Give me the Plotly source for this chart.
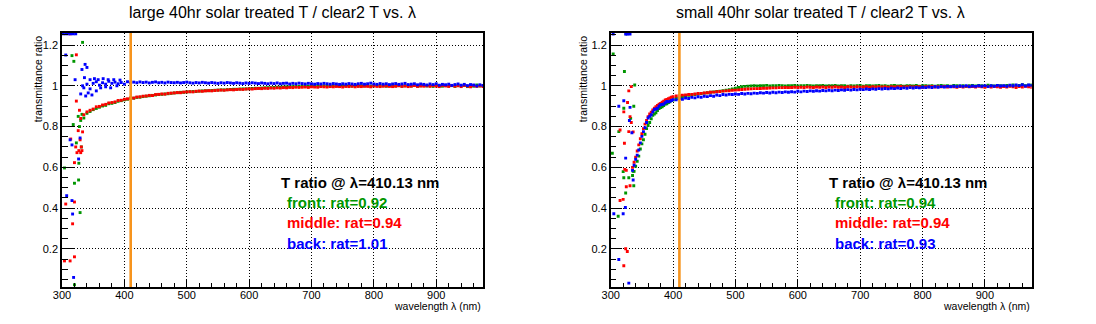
import plotly.graph_objects as go

# ---------------- data ----------------
wl = list(range(335, 980, 5))  # sampling grid 335..975 nm

L_front = [0.842, 0.865, 0.874, 0.883, 0.889, 0.895, 0.901, 0.904, 0.912, 0.914,
           0.918, 0.924, 0.927, 0.931, 0.934, 0.938, 0.939, 0.943, 0.944, 0.947,
           0.949, 0.951, 0.953, 0.955, 0.957, 0.958, 0.960, 0.961, 0.963, 0.965,
           0.966, 0.968, 0.968, 0.970, 0.971, 0.972, 0.972, 0.974, 0.975, 0.976,
           0.976, 0.977, 0.978, 0.979, 0.980, 0.980, 0.981, 0.982, 0.983, 0.983,
           0.984, 0.985, 0.985, 0.986, 0.987, 0.988, 0.988, 0.989, 0.990, 0.991,
           0.991, 0.992, 0.993, 0.993, 0.994, 0.995, 0.995, 0.996, 0.996, 0.997,
           0.997, 0.998, 0.997, 0.999, 0.998, 0.999, 0.998, 1.000, 0.999, 0.998,
           1.000, 0.999, 0.998, 1.001, 0.999, 1.000, 0.998, 1.001, 0.999, 1.000,
           0.999, 1.001, 0.998, 1.000, 1.002, 0.999, 1.000, 0.998, 1.001, 1.000,
           0.999, 1.002, 0.998, 1.000, 1.001, 0.999, 1.003, 0.998, 1.000, 1.002,
           0.999, 1.001, 0.997, 1.003, 1.000, 0.998, 1.002, 0.999, 1.001, 0.997,
           1.003, 0.999, 1.001, 0.996, 1.002, 0.998, 1.004, 0.999, 1.001]
L_middle = [0.858, 0.872, 0.880, 0.886, 0.897, 0.899, 0.906, 0.909, 0.916, 0.918,
            0.921, 0.928, 0.929, 0.934, 0.936, 0.941, 0.940, 0.945, 0.946, 0.949,
            0.950, 0.953, 0.952, 0.957, 0.958, 0.960, 0.959, 0.963, 0.964, 0.965,
            0.967, 0.966, 0.969, 0.970, 0.971, 0.970, 0.973, 0.974, 0.973, 0.975,
            0.976, 0.975, 0.977, 0.978, 0.979, 0.978, 0.980, 0.981, 0.980, 0.982,
            0.983, 0.982, 0.984, 0.985, 0.984, 0.986, 0.987, 0.986, 0.988, 0.987,
            0.989, 0.988, 0.990, 0.989, 0.991, 0.990, 0.992, 0.991, 0.993, 0.992,
            0.993, 0.994, 0.992, 0.995, 0.994, 0.993, 0.996, 0.995, 0.994, 0.996,
            0.995, 0.997, 0.996, 0.994, 0.997, 0.996, 0.998, 0.995, 0.997, 0.996,
            0.998, 0.997, 0.995, 0.999, 0.997, 0.996, 0.998, 0.999, 0.997, 0.996,
            0.998, 1.000, 0.997, 0.999, 0.996, 0.998, 1.001, 0.997, 0.999, 0.998,
            1.000, 0.997, 1.001, 0.998, 0.996, 1.002, 0.999, 0.997, 1.001, 0.998,
            1.000, 0.996, 1.002, 0.998, 0.995, 1.001, 0.997, 1.000, 0.996]
L_back = [0.990, 1.008, 0.985, 1.012, 1.020, 1.003, 1.015, 1.008, 1.022, 1.012,
          1.018, 1.010, 1.016, 1.008, 1.020, 1.014, 1.018, 1.015, 1.019, 1.016,
          1.018, 1.014, 1.017, 1.019, 1.015, 1.017, 1.014, 1.018, 1.016, 1.015,
          1.017, 1.014, 1.016, 1.018, 1.015, 1.013, 1.016, 1.014, 1.017, 1.015,
          1.013, 1.016, 1.014, 1.012, 1.015, 1.013, 1.016, 1.014, 1.012, 1.015,
          1.013, 1.011, 1.014, 1.012, 1.015, 1.013, 1.011, 1.014, 1.012, 1.010,
          1.013, 1.011, 1.014, 1.010, 1.012, 1.013, 1.009, 1.012, 1.010, 1.013,
          1.011, 1.009, 1.012, 1.010, 1.008, 1.011, 1.009, 1.012, 1.010, 1.008,
          1.011, 1.009, 1.007, 1.010, 1.008, 1.011, 1.009, 1.007, 1.010, 1.012,
          1.008, 1.010, 1.013, 1.009, 1.007, 1.011, 1.008, 1.010, 1.006, 1.009,
          1.011, 1.007, 1.009, 1.012, 1.006, 1.008, 1.010, 1.005, 1.009, 1.007,
          1.004, 1.009, 1.006, 1.010, 1.003, 1.007, 1.005, 1.008, 1.002, 1.006,
          1.009, 1.003, 1.007, 1.001, 1.006, 1.004, 0.999, 1.005, 1.002]

R_front = [0.560, 0.605, 0.655, 0.715, 0.762, 0.805, 0.838, 0.862, 0.878, 0.893,
           0.903, 0.912, 0.921, 0.930, 0.938, 0.944, 0.947, 0.950, 0.953, 0.955,
           0.957, 0.959, 0.962, 0.964, 0.966, 0.968, 0.970, 0.972, 0.974, 0.976,
           0.978, 0.981, 0.984, 0.988, 0.992, 0.995, 0.997, 0.998, 0.999, 1.000,
           0.999, 1.001, 1.000, 1.002, 0.999, 1.001, 1.000, 1.002, 1.001, 0.999,
           1.001, 1.000, 1.002, 0.999, 1.001, 1.000, 1.002, 1.001, 0.999, 1.001,
           1.000, 1.002, 0.999, 1.001, 1.000, 1.002, 0.999, 1.001, 1.000, 0.998,
           1.001, 0.999, 1.000, 1.002, 0.998, 1.000, 1.001, 0.999, 1.000, 1.002,
           0.999, 1.001, 0.998, 1.000, 1.002, 0.999, 1.001, 0.998, 1.000, 1.001,
           0.999, 1.002, 0.998, 1.000, 1.001, 0.999, 1.001, 0.998, 1.000, 1.002,
           0.999, 1.001, 0.998, 1.002, 1.000, 0.999, 1.001, 0.997, 1.000, 1.002,
           0.999, 1.002, 1.000, 0.998, 1.003, 1.000, 0.999, 1.002, 1.001, 0.999,
           1.002, 1.000, 1.004, 0.999, 1.002, 1.005, 1.001, 1.003, 1.004]
R_middle = [0.600, 0.650, 0.710, 0.765, 0.812, 0.848, 0.870, 0.890, 0.904, 0.914,
            0.924, 0.933, 0.940, 0.946, 0.950, 0.952, 0.954, 0.955, 0.957, 0.958,
            0.960, 0.962, 0.963, 0.965, 0.966, 0.968, 0.969, 0.971, 0.972, 0.974,
            0.975, 0.976, 0.978, 0.979, 0.980, 0.982, 0.983, 0.984, 0.985, 0.986,
            0.986, 0.987, 0.988, 0.988, 0.989, 0.990, 0.990, 0.991, 0.991, 0.992,
            0.991, 0.992, 0.993, 0.992, 0.993, 0.992, 0.994, 0.993, 0.992, 0.994,
            0.993, 0.994, 0.992, 0.994, 0.993, 0.995, 0.993, 0.994, 0.992, 0.995,
            0.994, 0.993, 0.995, 0.993, 0.994, 0.996, 0.993, 0.995, 0.994, 0.996,
            0.994, 0.995, 0.993, 0.996, 0.994, 0.995, 0.997, 0.994, 0.996, 0.995,
            0.994, 0.996, 0.995, 0.993, 0.996, 0.995, 0.997, 0.994, 0.996, 0.995,
            0.997, 0.994, 0.996, 0.995, 0.993, 0.996, 0.994, 0.997, 0.995, 0.996,
            0.994, 0.997, 0.995, 0.993, 0.996, 0.994, 0.997, 0.995, 0.993, 0.996,
            0.994, 0.997, 0.995, 0.992, 0.996, 0.994, 0.997, 0.995, 0.993]
R_back = [0.585, 0.640, 0.685, 0.752, 0.795, 0.842, 0.858, 0.884, 0.890, 0.907,
          0.911, 0.923, 0.924, 0.932, 0.931, 0.937, 0.934, 0.940, 0.938, 0.943,
          0.941, 0.946, 0.944, 0.949, 0.947, 0.952, 0.949, 0.955, 0.952, 0.957,
          0.955, 0.958, 0.957, 0.960, 0.958, 0.962, 0.960, 0.963, 0.961, 0.964,
          0.963, 0.966, 0.964, 0.967, 0.965, 0.968, 0.966, 0.969, 0.967, 0.970,
          0.968, 0.971, 0.969, 0.973, 0.970, 0.974, 0.972, 0.975, 0.973, 0.976,
          0.974, 0.977, 0.975, 0.978, 0.976, 0.979, 0.977, 0.980, 0.978, 0.981,
          0.979, 0.982, 0.980, 0.983, 0.981, 0.984, 0.982, 0.985, 0.983, 0.986,
          0.984, 0.987, 0.985, 0.988, 0.986, 0.989, 0.987, 0.990, 0.988, 0.991,
          0.989, 0.992, 0.990, 0.993, 0.991, 0.994, 0.992, 0.995, 0.993, 0.996,
          0.994, 0.997, 0.995, 0.998, 0.996, 0.999, 0.997, 1.000, 0.996, 0.999,
          0.997, 1.000, 0.998, 1.001, 0.996, 1.000, 0.998, 1.002, 0.999, 1.001,
          0.998, 1.003, 1.000, 1.004, 1.001, 1.005, 0.999, 1.004, 1.002]

# scattered low-wavelength points (wavelength, ratio)
L_front_lo_wl = [304, 316, 319, 318, 326, 323, 331, 327, 326.6, 320, 329, 320, 333, 328, 332, 330]
L_front_lo_v = [0.597, 1.148, 1.12, 0.81, 0.85, 0.72, 0.70, 0.62, 0.538, 0.522, 0.378, 0.024, 1.213, 0.80, 0.86, 0.83]
L_middle_lo_wl = [313, 323, 323, 333, 314, 329, 322, 331, 332, 327, 324, 330, 320, 306, 320, 317, 320, 304, 313, 328, 330, 326]
L_middle_lo_v = [1.255, 1.152, 0.925, 0.774, 0.739, 0.735, 0.70, 0.70, 0.682, 0.682, 0.672, 0.672, 0.623, 0.42, 0.43, 0.323, 0.161, 0.141, 0.141, 0.88, 0.84, 0.78]
L_back_lo_wl = [302, 306, 310, 314, 318, 322, 306, 337, 340, 332, 321, 313, 329, 316, 326.6, 307.5, 316, 317, 318.6,
                330, 333, 336, 338, 342, 345, 348, 352, 355, 358, 362, 366, 370, 374, 378, 383, 388, 393]
L_back_lo_v = [1.255, 1.255, 1.255, 1.255, 1.255, 1.255, 1.151, 1.105, 1.09, 1.08, 1.03, 0.735, 0.744, 0.71, 0.641, 0.461, 0.437, 0.371, 0.06,
               0.96, 1.0, 1.04, 0.95, 0.965, 1.03, 0.955, 1.035, 0.975, 1.03, 0.99, 1.035, 0.995, 1.03, 0.99, 1.03, 1.0, 1.028]

R_front_lo_wl = [304, 322, 338.5, 321, 337, 332, 313, 302.6, 320, 336, 321, 329, 337, 324, 312, 325,
                 337.5, 342.5, 347.5, 352.5, 357.5, 362.5, 367.5, 372.5, 377.5, 382.5, 387.5, 392.5, 397.5]
R_front_lo_v = [1.156, 1.07, 1.004, 0.89, 0.90, 0.84, 0.775, 0.669, 0.579, 0.58, 0.549, 0.549, 0.51, 0.474, 0.36, 1.255,
                0.58, 0.63, 0.69, 0.735, 0.79, 0.82, 0.855, 0.868, 0.888, 0.897, 0.91, 0.918, 0.928]
R_middle_lo_wl = [333, 329, 327, 321, 331, 315, 329, 336, 322, 322.6, 325, 325, 331, 315, 320, 324, 326.6, 321, 333,
                  337.5, 342.5, 347.5, 352.5, 357.5, 362.5, 367.5, 372.5, 377.5, 382.5, 387.5, 392.5, 397.5]
R_middle_lo_v = [0.996, 0.975, 0.918, 0.872, 0.849, 0.783, 0.775, 0.774, 0.718, 0.59, 0.585, 0.505, 0.51, 0.437, 0.443, 0.201, 0.187, 0.117, 0.82,
                 0.625, 0.68, 0.74, 0.79, 0.83, 0.862, 0.882, 0.898, 0.91, 0.92, 0.93, 0.937, 0.944]
R_back_lo_wl = [304, 324, 327, 331, 321, 313, 331, 330, 334, 324, 336, 323.5, 305, 320, 313, 329,
                337.5, 342.5, 347.5, 352.5, 357.5, 362.5, 367.5, 372.5, 377.5, 382.5, 387.5, 392.5, 397.5]
R_back_lo_v = [1.254, 1.254, 1.254, 1.254, 0.927, 0.9, 0.894, 0.83, 0.77, 0.645, 0.538, 0.403, 0.372, 0.372, 0.148, 0.032,
               0.61, 0.66, 0.72, 0.775, 0.82, 0.85, 0.872, 0.886, 0.9, 0.908, 0.917, 0.922, 0.928]

lambda_mark = 410.13
L_rat = ["0.92", "0.94", "1.01"]
R_rat = ["0.94", "0.94", "0.93"]
titles = ["large 40hr solar treated T / clear2 T vs. \u03bb",
          "small 40hr solar treated T / clear2 T vs. \u03bb"]
names = ["front", "middle", "back"]

for arr in (L_front, L_middle, L_back, R_front, R_middle, R_back):
    assert len(arr) == len(wl), len(arr)

# ---------------- style ----------------
FONT = "Liberation Sans, Arial, Helvetica, sans-serif"
colors = ["#009600", "#ff0000", "#0000ff"]
ORANGE = "#f7941d"
XR = [300, 975]
YR = [0.013, 1.259]

fig = go.Figure()

panels = [
    ("x", "y", [(L_front, L_front_lo_wl, L_front_lo_v), (L_middle, L_middle_lo_wl, L_middle_lo_v), (L_back, L_back_lo_wl, L_back_lo_v)]),
    ("x2", "y2", [(R_front, R_front_lo_wl, R_front_lo_v), (R_middle, R_middle_lo_wl, R_middle_lo_v), (R_back, R_back_lo_wl, R_back_lo_v)]),
]
for xa, ya, series in panels:
    for (vals, lo_wl, lo_v), col in zip(series, colors):
        fig.add_trace(go.Scatter(x=lo_wl + wl, y=lo_v + vals, mode="markers", xaxis=xa, yaxis=ya,
                                 marker=dict(symbol="square", size=2.9, color=col, line=dict(width=0)),
                                 showlegend=False, cliponaxis=True))
    fig.add_trace(go.Scatter(x=[lambda_mark, lambda_mark], y=YR, mode="lines", xaxis=xa, yaxis=ya,
                             line=dict(color=ORANGE, width=2.6), showlegend=False))

axis_common = dict(range=XR, showline=True, linecolor="black", linewidth=1.5, mirror=True,
                   ticks="inside", ticklen=8, tickwidth=1, tickcolor="black",
                   tickmode="linear", tick0=300, dtick=100, automargin=False,
                   ticklabelstandoff=-3,
                   showgrid=True, gridcolor="black", gridwidth=1, griddash="1px,2px",
                   zeroline=False, tickfont=dict(family=FONT, size=11, color="black"),
                   minor=dict(ticks="inside", ticklen=4, dtick=20, tickcolor="black", showgrid=False))
yaxis_common = dict(range=YR, showline=True, linecolor="black", linewidth=1.5, mirror=True,
                    ticks="inside", ticklen=12, tickwidth=1, tickcolor="black",
                    tickmode="linear", tick0=0, dtick=0.2, automargin=False,
                    showgrid=True, gridcolor="black", gridwidth=1, griddash="1px,2px",
                    zeroline=False, tickfont=dict(family=FONT, size=11, color="black"),
                    minor=dict(ticks="inside", ticklen=6, dtick=0.05, tickcolor="black", showgrid=False))

W, H = 1096, 324
L0, L1 = 62 / W, 483 / W
R0, R1 = 610.7 / W, 1031.7 / W
Y0, Y1 = (H - 287) / H, (H - 33) / H

fig.update_layout(
    width=W, height=H, margin=dict(l=0, r=0, t=0, b=0, autoexpand=False),
    paper_bgcolor="white", plot_bgcolor="white",
    font=dict(family=FONT, color="black"),
    xaxis=dict(domain=[L0, L1], anchor="y", **axis_common),
    yaxis=dict(domain=[Y0, Y1], anchor="x", **yaxis_common),
    xaxis2=dict(domain=[R0, R1], anchor="y2", **axis_common),
    yaxis2=dict(domain=[Y0, Y1], anchor="x2", **yaxis_common),
)

ann = []
for (xa, ya, x_lo, x_hi, rats, tcx, ytx) in [("x", "y", L0, L1, L_rat, 272.5 / W, 37.7 / W),
                                            ("x2", "y2", R0, R1, R_rat, 820 / W, 582.7 / W)]:
    idx = 0 if xa == "x" else 1
    ann.append(dict(text=titles[idx], x=tcx, y=(H - 13) / H, xref="paper", yref="paper",
                    xanchor="center", yanchor="middle", showarrow=False,
                    font=dict(family=FONT, size=16, color="black")))
    ann.append(dict(text="transmittance ratio", x=ytx, y=Y1, xref="paper", yref="paper",
                    xanchor="center", yanchor="top", textangle=-90, showarrow=False,
                    font=dict(family=FONT, size=10.5, color="black")))
    ann.append(dict(text="wavelength \u03bb (nm)", x=x_hi, y=(H - 306) / H, xref="paper", yref="paper",
                    xanchor="right", yanchor="middle", showarrow=False,
                    font=dict(family=FONT, size=10.5, color="black")))
    ann.append(dict(text="<b>T ratio @ \u03bb=%.2f nm</b>" % lambda_mark, x=647.5, y=0.528,
                    xref=xa, yref=ya, xanchor="left", yanchor="middle", showarrow=False,
                    font=dict(family=FONT, size=15, color="black")))
    for k, (nm, r, col) in enumerate(zip(names, rats, colors)):
        ann.append(dict(text="<b>%s: rat=%s</b>" % (nm, r), x=657, y=0.427 - 0.1 * k,
                        xref=xa, yref=ya, xanchor="left", yanchor="middle", showarrow=False,
                        font=dict(family=FONT, size=15, color=col)))
fig.update_layout(annotations=ann)

fig.write_html("out.html")
